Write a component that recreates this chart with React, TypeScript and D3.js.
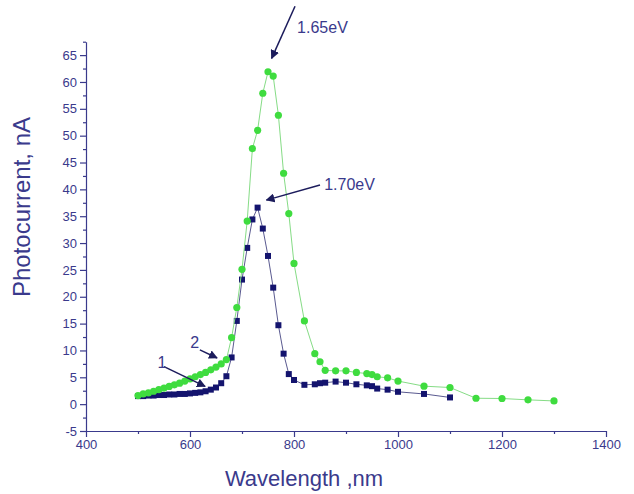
import * as d3 from "d3";
import { useEffect, useRef } from "react";

// curve 1 (navy squares)
const wavelength1 = [500, 510, 520, 530, 540, 550, 560, 570, 580, 590, 600, 610, 620, 630, 640, 650, 660, 670, 680, 690, 700, 710, 720, 730, 740, 750, 760, 770, 780, 790, 800, 820, 840, 850, 860, 880, 900, 920, 940, 950, 960, 980, 1000, 1050, 1100];
const current1 = [1.5, 1.5, 1.6, 1.6, 1.7, 1.7, 1.8, 1.8, 1.9, 1.9, 2.0, 2.1, 2.2, 2.4, 2.7, 3.1, 3.9, 5.2, 8.7, 15.5, 23.2, 29.1, 34.4, 36.6, 32.7, 27.6, 21.7, 14.7, 9.4, 5.6, 4.5, 3.6, 3.7, 3.9, 4.0, 4.2, 4.0, 3.7, 3.5, 3.35, 2.9, 2.7, 2.3, 1.9, 1.25];

// curve 2 (green circles)
const wavelength2 = [500, 510, 520, 530, 540, 550, 560, 570, 580, 590, 600, 610, 620, 630, 640, 650, 660, 670, 680, 690, 700, 710, 720, 730, 740, 750, 760, 770, 780, 790, 800, 820, 840, 850, 860, 880, 900, 920, 940, 950, 960, 980, 1000, 1050, 1100, 1150, 1200, 1250, 1300];
const current2 = [1.6, 1.9, 2.1, 2.4, 2.7, 3.0, 3.3, 3.6, 3.9, 4.3, 4.7, 5.1, 5.5, 5.9, 6.4, 6.9, 7.5, 8.3, 12.4, 18.0, 25.1, 34.1, 47.6, 51.0, 57.9, 61.9, 61.1, 53.8, 43.0, 35.5, 26.2, 15.5, 9.4, 7.9, 6.3, 6.2, 6.2, 5.9, 5.7, 5.5, 5.1, 4.9, 4.3, 3.35, 3.1, 1.1, 1.05, 0.8, 0.6];

const xTicks = [400, 600, 800, 1000, 1200, 1400];
const xMinorTicks = [500, 700, 900, 1100, 1300];
const yTicks = [-5, 0, 5, 10, 15, 20, 25, 30, 35, 40, 45, 50, 55, 60, 65];
const yMinorTicks = [-2.5, 2.5, 7.5, 12.5, 17.5, 22.5, 27.5, 32.5, 37.5, 42.5, 47.5, 52.5, 57.5, 62.5, 67.5];

// arrows + labels, in data units
const notes = [
  { label: "1.65eV", tx: 806, ty: 69.1, anchor: "start", from: [802, 74.1], to: [757, 64.4] },
  { label: "1.70eV", tx: 858, ty: 39.9, anchor: "start", from: [850, 40.8], to: [747, 38.0] },
  { label: "2", tx: 609, ty: 10.5, anchor: "middle", from: [619, 10.1], to: [652, 8.6] },
  { label: "1", tx: 546, ty: 6.7, anchor: "middle", from: [550, 7.0], to: [629, 3.3] },
];

const FONT = "'Liberation Sans', Arial, sans-serif";
const INK = "#3a3a8c";

export default function App() {
  const ref = useRef<SVGSVGElement>(null);

  useEffect(() => {
    const svg = d3.select(ref.current);
    svg.selectAll("*").remove();

    const x = d3.scaleLinear().domain([400, 1400]).range([86, 606]);
    const y = d3.scaleLinear().domain([-5, 67.5]).range([431, 41.7]);

    svg.append("defs").append("marker")
      .attr("id", "head")
      .attr("viewBox", "0 0 10 10")
      .attr("refX", 9).attr("refY", 5)
      .attr("markerWidth", 6).attr("markerHeight", 6)
      .attr("markerUnits", "strokeWidth")
      .attr("orient", "auto")
      .append("path").attr("d", "M0,0L10,5L0,10Z").attr("fill", "#1c1c5c");

    // axes
    const styleAxis = (g: any) => {
      g.attr("font-family", FONT).attr("font-size", 13);
      g.selectAll("path, line").attr("stroke", INK).attr("stroke-width", 1.2);
      g.selectAll("text").attr("fill", INK);
    };
    const plain = (d: any) => String(d);

    svg.append("g").attr("transform", `translate(0,${y(-5)})`)
      .call(d3.axisBottom(x).tickValues(xTicks).tickFormat(plain).tickSize(6).tickSizeOuter(0).tickPadding(3))
      .call(styleAxis);
    svg.append("g").attr("transform", `translate(0,${y(-5)})`)
      .call(d3.axisBottom(x).tickValues(xMinorTicks).tickSize(3).tickFormat(() => ""))
      .call(styleAxis)
      .call((g: any) => g.select(".domain").remove());

    svg.append("g").attr("transform", `translate(${x(400)},0)`)
      .call(d3.axisLeft(y).tickValues(yTicks).tickFormat(plain).tickSize(6).tickSizeOuter(0).tickPadding(3))
      .call(styleAxis);
    svg.append("g").attr("transform", `translate(${x(400)},0)`)
      .call(d3.axisLeft(y).tickValues(yMinorTicks).tickSize(3).tickFormat(() => ""))
      .call(styleAxis)
      .call((g: any) => g.select(".domain").remove());

    // titles
    svg.append("text")
      .attr("x", 304).attr("y", 486)
      .attr("text-anchor", "middle")
      .attr("font-family", FONT).attr("font-size", 22).attr("fill", INK)
      .text("Wavelength ,nm");
    svg.append("text")
      .attr("transform", "translate(30,207) rotate(-90)")
      .attr("text-anchor", "middle")
      .attr("font-family", FONT).attr("font-size", 24).attr("fill", INK)
      .text("Photocurrent, nA");

    const s1 = wavelength1.map((w, i) => [w, current1[i]] as [number, number]);
    const s2 = wavelength2.map((w, i) => [w, current2[i]] as [number, number]);
    const path = d3.line<[number, number]>().x((d) => x(d[0])).y((d) => y(d[1]));

    svg.append("path").datum(s1)
      .attr("d", path).attr("fill", "none")
      .attr("stroke", "#5a5a90").attr("stroke-width", 1);
    svg.append("g").selectAll("rect").data(s1).join("rect")
      .attr("x", (d) => x(d[0]) - 3).attr("y", (d) => y(d[1]) - 3)
      .attr("width", 6).attr("height", 6)
      .attr("fill", "#14146e");

    svg.append("path").datum(s2)
      .attr("d", path).attr("fill", "none")
      .attr("stroke", "#86dc86").attr("stroke-width", 1);
    svg.append("g").selectAll("circle").data(s2).join("circle")
      .attr("cx", (d) => x(d[0])).attr("cy", (d) => y(d[1]))
      .attr("r", 3.6)
      .attr("fill", "#3fdc3f");

    // annotations
    const ann = svg.append("g");
    notes.forEach((n) => {
      ann.append("line")
        .attr("x1", x(n.from[0])).attr("y1", y(n.from[1]))
        .attr("x2", x(n.to[0])).attr("y2", y(n.to[1]))
        .attr("stroke", "#1c1c5c").attr("stroke-width", 1.5)
        .attr("marker-end", "url(#head)");
      ann.append("text")
        .attr("x", x(n.tx)).attr("y", y(n.ty))
        .attr("text-anchor", n.anchor)
        .attr("font-family", FONT).attr("font-size", 16).attr("fill", INK)
        .text(n.label);
    });
  }, []);

  return (
    <svg
      ref={ref}
      width={634}
      height={494}
      style={{ position: "absolute", left: 0, top: 0, background: "#fff" }}
    />
  );
}
